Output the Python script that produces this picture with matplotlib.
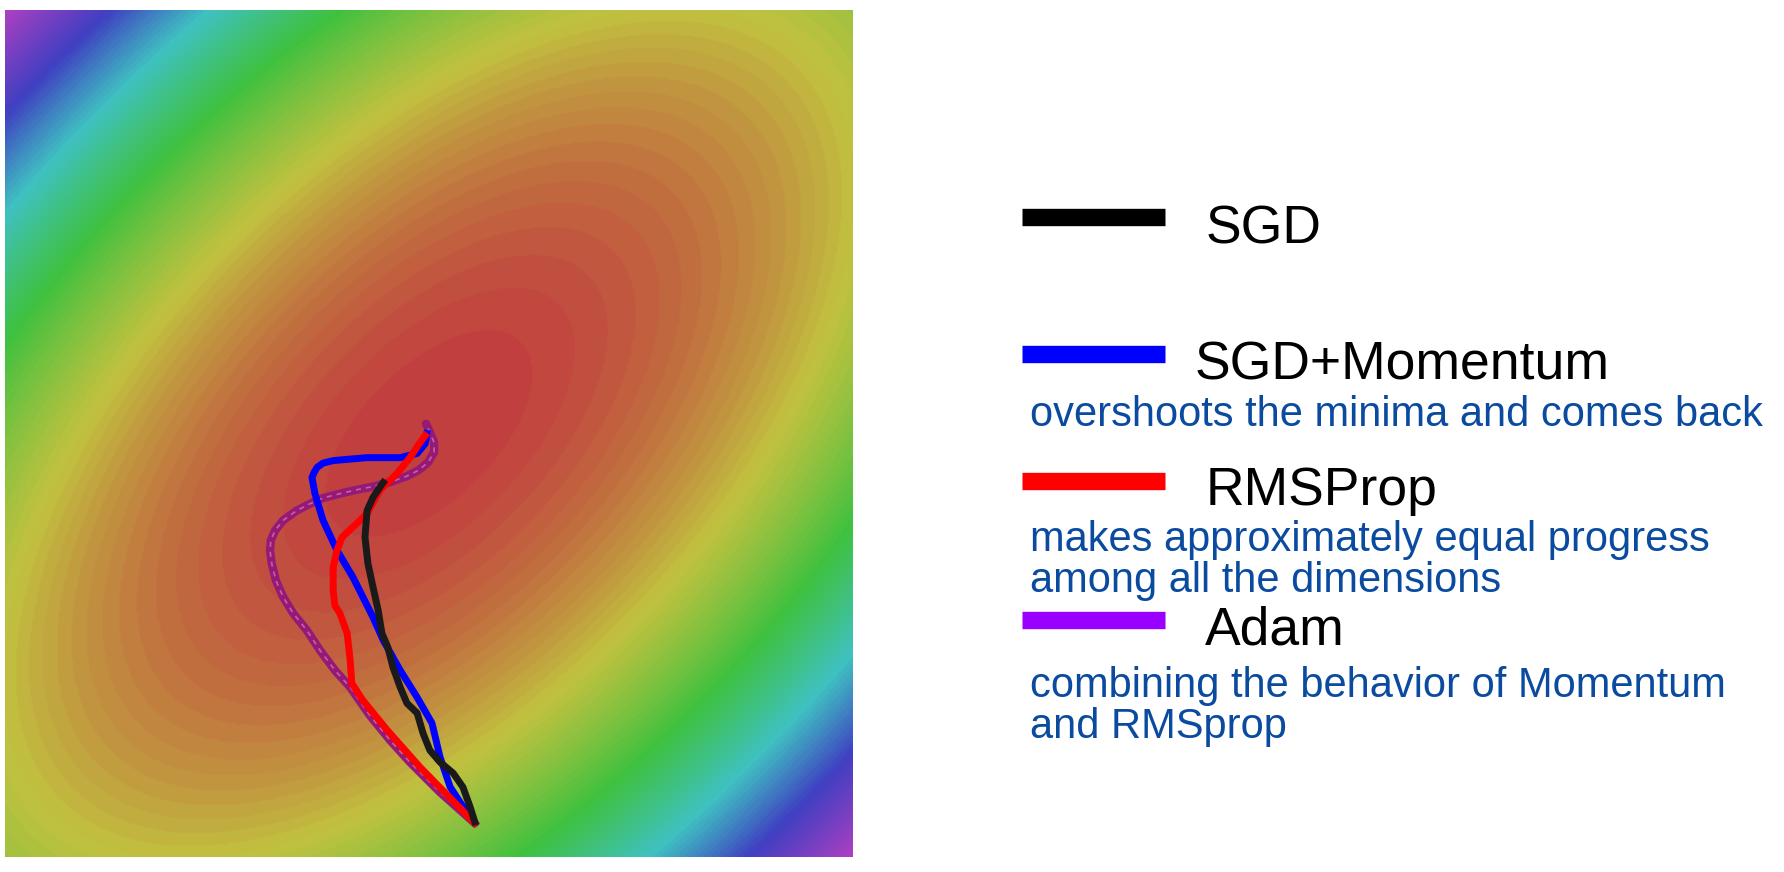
#------------------------- Librerias -------------------------
import numpy as np
import matplotlib
matplotlib.use("Agg")
import matplotlib.pyplot as plt
from matplotlib.colors import ListedColormap, hsv_to_rgb
from matplotlib.lines import Line2D

plt.rcParams['font.family'] = ['Liberation Sans', 'DejaVu Sans']

#------------------------- Datos -----------------------------
# superficie de perdida: f = a*(x^2 + y^2) - 2*b*x*y
coef_a = 1.0
coef_b = 0.58

# trayectorias (x, y)
sgd_x = [0.108, 0.097, 0.080, 0.057, 0.026, 0.002, -0.014, -0.028, -0.052, -0.068,
         -0.085, -0.097, -0.111, -0.120, -0.132, -0.144, -0.151, -0.146, -0.132,
         -0.116, -0.108]
sgd_y = [-0.917, -0.882, -0.835, -0.802, -0.776, -0.748, -0.708, -0.660, -0.637, -0.599,
         -0.552, -0.505, -0.472, -0.417, -0.363, -0.307, -0.245, -0.182, -0.151,
         -0.127, -0.116]

mom_x = [0.108, 0.090, 0.050, 0.026, 0.007, -0.028, -0.068, -0.108, -0.132, -0.179,
         -0.217, -0.250, -0.269, -0.276, -0.271, -0.264, -0.250, -0.226, -0.146, -0.068,
         -0.028, -0.009, -0.005]
mom_y = [-0.920, -0.896, -0.835, -0.764, -0.684, -0.623, -0.559, -0.488, -0.434, -0.340,
         -0.276, -0.205, -0.142, -0.104, -0.092, -0.080, -0.070, -0.064, -0.057, -0.057,
         -0.047, -0.024, 0.000]

rms_x = [0.108, -0.021, -0.099, -0.156, -0.182, -0.186, -0.193, -0.210, -0.222, -0.226,
         -0.226, -0.217, -0.205, -0.170, -0.146, -0.116, -0.075, -0.045, -0.021, -0.009]
rms_y = [-0.920, -0.788, -0.700, -0.630, -0.590, -0.535, -0.472, -0.425, -0.406, -0.370,
         -0.316, -0.276, -0.245, -0.212, -0.189, -0.134, -0.094, -0.057, -0.021, -0.005]

adam_x = [0.108, 0.026, -0.045, -0.092, -0.140, -0.186, -0.222, -0.257, -0.288, -0.320,
          -0.344, -0.361, -0.371, -0.375, -0.373, -0.363, -0.344, -0.312, -0.281,
          -0.249, -0.210, -0.171, -0.131, -0.092, -0.053, -0.025, -0.002, 0.012,
          0.012, 0.002, -0.007]
adam_y = [-0.920, -0.847, -0.776, -0.724, -0.665, -0.599, -0.559, -0.512, -0.465, -0.425,
          -0.386, -0.347, -0.307, -0.276, -0.252, -0.229, -0.205, -0.182, -0.166,
          -0.152, -0.142, -0.133, -0.125, -0.115, -0.101, -0.087, -0.068, -0.044,
          -0.021, 0.003, 0.023]

nombres = ["SGD", "SGD+Momentum", "RMSProp", "Adam"]
colores = ["black", "#0000ff", "#ff0000", "#9900ff"]
descripciones = [[],
                 ["overshoots the minima and comes back"],
                 ["makes approximately equal progress", "among all the dimensions"],
                 ["combining the behavior of Momentum", "and RMSprop"]]

#------------------------- Figura ----------------------------
W, H = 1784, 872
fig = plt.figure(figsize=(W / 100, H / 100), dpi=100)
ax = fig.add_axes([5 / W, 1 - 857 / H, 848 / W, 847 / H])

# fondo: superficie con colores tipo arcoiris apagado (en escalones)
xs = np.linspace(-1, 1, 600)
X, Y = np.meshgrid(xs, xs)
Z = coef_a * (X ** 2 + Y ** 2) - 2 * coef_b * X * Y
fmax = 2 * coef_a + 2 * coef_b
n_col = 80
f_col = np.linspace(0, fmax, n_col)
# tono (grados) segun el nivel: rojo -> amarillo -> verde -> cian -> azul -> violeta
hues = np.interp(f_col, [0, 0.664, 1.28, 1.873, 2.45, fmax],
                 [0, 60, 120, 180, 240, 290]) / 360
rgb = hsv_to_rgb(np.stack([hues, np.full(n_col, 0.67), np.full(n_col, 0.76)], axis=1))
cmap = ListedColormap(rgb)
ax.imshow(Z, extent=(-1, 1, -1, 1), origin="lower", cmap=cmap, vmin=0, vmax=fmax,
          interpolation="bilinear", aspect="auto")

# trayectorias
ax.plot(adam_x, adam_y, color="#951a78", lw=6, solid_joinstyle="round", solid_capstyle="round")
ax.plot(adam_x, adam_y, color="#c8609e", lw=1.2, ls=(0, (3, 3)))
ax.plot(mom_x, mom_y, color="#0000ff", lw=5, solid_joinstyle="round")
ax.plot(rms_x, rms_y, color="#ff0000", lw=5, solid_joinstyle="round")
ax.plot(sgd_x, sgd_y, color="#1a1a1a", lw=5, solid_joinstyle="round")
ax.set_xlim(-1, 1)
ax.set_ylim(-1, 1)
ax.axis("off")

#------------------------- Leyenda manual --------------------
linea_y = [217, 354, 481, 620]
texto_y = [243, 380, 505, 644]
texto_x = [1206, 1195, 1206, 1205]
desc_y = [[], [426], [551, 592], [697, 738]]

for i in range(4):
    fig.add_artist(Line2D([1022 / W, 1165 / W], [1 - linea_y[i] / H] * 2,
                          color=colores[i], lw=12.5, solid_capstyle="butt",
                          transform=fig.transFigure))
    fig.text(texto_x[i] / W, 1 - texto_y[i] / H, nombres[i], fontsize=38.5,
             color="black", va="baseline", ha="left")
    for linea, yb in zip(descripciones[i], desc_y[i]):
        fig.text(1030 / W, 1 - yb / H, linea, fontsize=30,
                 color="#0a4ba0", va="baseline", ha="left")

fig.savefig("out.png", dpi=100)
